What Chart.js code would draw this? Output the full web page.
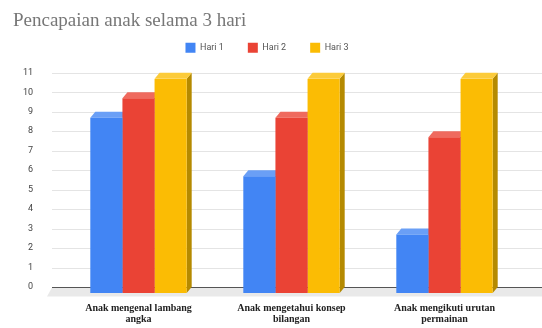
<!DOCTYPE html>
<html>
<head>
<meta charset="utf-8">
<script src="https://cdn.jsdelivr.net/npm/chart.js@4/dist/chart.umd.min.js"></script>
<style>
  html, body { margin: 0; padding: 0; background: #fff; }
  #wrap { width: 542px; height: 328px; }
</style>
</head>
<body>
<div id="wrap"><canvas id="chart_id"></canvas></div>
<script>
// data
const categories = [
    ["Anak mengenal lambang", "angka"],
    ["Anak mengetahui konsep", "bilangan"],
    ["Anak mengikuti urutan", "permainan"]
];
const seriesNames = ["Hari 1", "Hari 2", "Hari 3"];
const hari1 = [9, 6, 3];
const hari2 = [10, 9, 8];
const hari3 = [11, 11, 11];
const yTicks = [0, 1, 2, 3, 4, 5, 6, 7, 8, 9, 10, 11];

const colors = ["#4285F4", "#EA4335", "#FBBC04"];
const topColors = ["#6a9ff6", "#ef6a5e", "#fccb3a"];
const sideColors = ["#2f63c0", "#b5302a", "#b58a00"];

const DX = 5, DY = 6;

// fake 3d: floor, grid on back plane, top/side faces of bars
const threeD = {
    id: 'threeD',
    afterInit(chart) {
        // a bit more room under the legend
        const lg = chart.legend;
        const fit = lg.fit.bind(lg);
        lg.fit = function () { fit(); this.height += 10; };
    },
    beforeDatasetsDraw(chart) {
        const ctx = chart.ctx;
        const y = chart.scales.y;
        const area = chart.chartArea;
        const left = area.left - 10, right = chart.width;
        ctx.save();
        // grid lines
        ctx.strokeStyle = '#e4e4e4';
        ctx.lineWidth = 1;
        yTicks.forEach(t => {
            if (t == 0) return;
            const py = Math.round(y.getPixelForValue(t)) + 0.5;
            ctx.beginPath();
            ctx.moveTo(left, py);
            ctx.lineTo(right, py);
            ctx.stroke();
        });
        // floor
        const y0 = Math.round(y.getPixelForValue(0)) + 0.5;
        ctx.fillStyle = '#e9e9e9';
        ctx.beginPath();
        ctx.moveTo(left, y0);
        ctx.lineTo(right, y0);
        ctx.lineTo(right, y0 + DY + 3);
        ctx.lineTo(left - DX, y0 + DY + 3);
        ctx.closePath();
        ctx.fill();
        ctx.strokeStyle = '#555';
        ctx.beginPath();
        ctx.moveTo(left, y0);
        ctx.lineTo(right, y0);
        ctx.stroke();

        // top and side faces
        chart.data.datasets.forEach((ds, i) => {
            const meta = chart.getDatasetMeta(i);
            meta.data.forEach(bar => {
                const x1 = bar.x - bar.width / 2, x2 = bar.x + bar.width / 2;
                const top = bar.y + DY, bottom = bar.base + DY;
                ctx.fillStyle = sideColors[i];
                ctx.beginPath();
                ctx.moveTo(x2, top);
                ctx.lineTo(x2 + DX, top - DY);
                ctx.lineTo(x2 + DX, bottom - DY);
                ctx.lineTo(x2, bottom);
                ctx.closePath();
                ctx.fill();
                ctx.fillStyle = topColors[i];
                ctx.beginPath();
                ctx.moveTo(x1, top);
                ctx.lineTo(x1 + DX, top - DY);
                ctx.lineTo(x2 + DX, top - DY);
                ctx.lineTo(x2, top);
                ctx.closePath();
                ctx.fill();
            });
        });
        ctx.translate(0, DY);
    },
    afterDatasetsDraw(chart) {
        chart.ctx.restore();
    }
};

new Chart(
    document.getElementById('chart_id'),
    {
        type: 'bar',
        plugins: [threeD],
        data: {
            labels: categories,
            datasets: [
                { label: seriesNames[0], data: hari1, backgroundColor: colors[0] },
                { label: seriesNames[1], data: hari2, backgroundColor: colors[1] },
                { label: seriesNames[2], data: hari3, backgroundColor: colors[2] }
            ]
        },
        options: {
            responsive: true,
            maintainAspectRatio: false,
            animation: false,
            layout: { padding: { left: 13, right: 21, top: 4, bottom: 0 } },
            datasets: {
                bar: { barPercentage: 1, categoryPercentage: 0.63 }
            },
            plugins: {
                title: {
                    display: true,
                    text: 'Pencapaian anak selama 3 hari',
                    align: 'start',
                    color: '#777',
                    font: { family: '"Liberation Serif", "DejaVu Serif", serif', size: 19, weight: 400 },
                    padding: { top: 6, bottom: -14 }
                },
                legend: {
                    display: true,
                    labels: {
                        boxWidth: 10,
                        boxHeight: 10,
                        color: '#555',
                        padding: 24,
                        font: { family: 'Roboto, sans-serif', size: 9 }
                    }
                },
                tooltip: { enabled: false }
            },
            scales: {
                x: {
                    grid: { display: false, drawTicks: false },
                    border: { display: false },
                    afterFit: (s) => { s.height = 41; },
                    ticks: {
                        color: '#222',
                        padding: 16,
                        maxRotation: 0,
                        font: { family: '"Liberation Serif", "DejaVu Serif", serif', size: 10, weight: 'bold', lineHeight: 1.1 }
                    }
                },
                y: {
                    min: 0,
                    max: 11,
                    grid: { display: false, drawTicks: false },
                    border: { display: false },
                    afterFit: (s) => { s.width = 49; },
                    afterBuildTicks: (s) => { s.ticks = yTicks.map(v => ({ value: v })); },
                    ticks: {
                        color: '#444',
                        padding: 29,
                        font: { family: 'Roboto, sans-serif', size: 9 }
                    }
                }
            }
        }
    }
);
</script>
</body>
</html>
